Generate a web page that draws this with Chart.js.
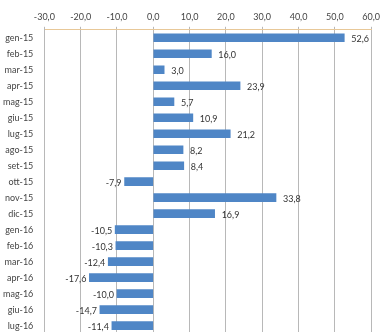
<!DOCTYPE html>
<html>
<head>
<meta charset="utf-8">
<script src="https://cdn.jsdelivr.net/npm/chart.js@4/dist/chart.umd.min.js"></script>
<style>
  html, body { margin: 0; padding: 0; background: #fff; overflow: hidden; }
  #wrap { width: 384px; height: 342px; position: relative; }
</style>
</head>
<body>
<div id="wrap"><canvas id="chart"></canvas></div>
<script>
const months = ['gen-15', 'feb-15', 'mar-15', 'apr-15', 'mag-15', 'giu-15', 'lug-15', 'ago-15', 'set-15', 'ott-15', 'nov-15', 'dic-15',
                'gen-16', 'feb-16', 'mar-16', 'apr-16', 'mag-16', 'giu-16', 'lug-16'];
const values = [52.6, 16.0, 3.0, 23.9, 5.7, 10.9, 21.2, 8.2, 8.4, -7.9, 33.8, 16.9,
                -10.5, -10.3, -12.4, -17.6, -10.0, -14.7, -11.4];
const xMin = -30, xMax = 60, xStep = 10;

const fmt = v => v.toFixed(1).replace('.', ',');

// etichette dati accanto alle barre
const valueLabels = {
  id: 'valueLabels',
  afterDatasetsDraw(chart) {
    const ctx = chart.ctx;
    const meta = chart.getDatasetMeta(0);
    ctx.save();
    ctx.font = '9px Lato';
    ctx.fillStyle = '#333';
    ctx.textBaseline = 'middle';
    meta.data.forEach((bar, i) => {
      const v = values[i];
      if (v >= 0) {
        ctx.textAlign = 'left';
        ctx.fillText(fmt(v), bar.x + 7, bar.y + 1);
      } else {
        ctx.textAlign = 'right';
        ctx.fillText(fmt(v), bar.x - 3, bar.y + 1);
      }
    });
    ctx.restore();
  }
};

new Chart(document.getElementById('chart'), {
  type: 'bar',
  data: {
    labels: months,
    datasets: [{
      data: values,
      backgroundColor: '#4f86c6',
      barThickness: 8
    }]
  },
  options: {
    indexAxis: 'y',
    responsive: true,
    maintainAspectRatio: false,
    animation: false,
    layout: { padding: { top: 8, right: 11, left: 0, bottom: 0 } },
    plugins: { legend: { display: false }, tooltip: { enabled: false } },
    scales: {
      x: {
        position: 'top',
        min: xMin,
        max: xMax,
        ticks: { stepSize: xStep, color: '#444', font: { size: 9, family: 'Lato' }, padding: 4, callback: v => fmt(v) },
        grid: { color: '#b8b8b8', tickLength: 3 },
        border: { color: '#e8c898' }
      },
      y: {
        ticks: { color: '#444', font: { size: 9, family: 'Lato' }, padding: 3 },
        grid: { display: false },
        border: { color: '#b8b8b8' }
      }
    }
  },
  plugins: [valueLabels]
});
</script>
</body>
</html>
